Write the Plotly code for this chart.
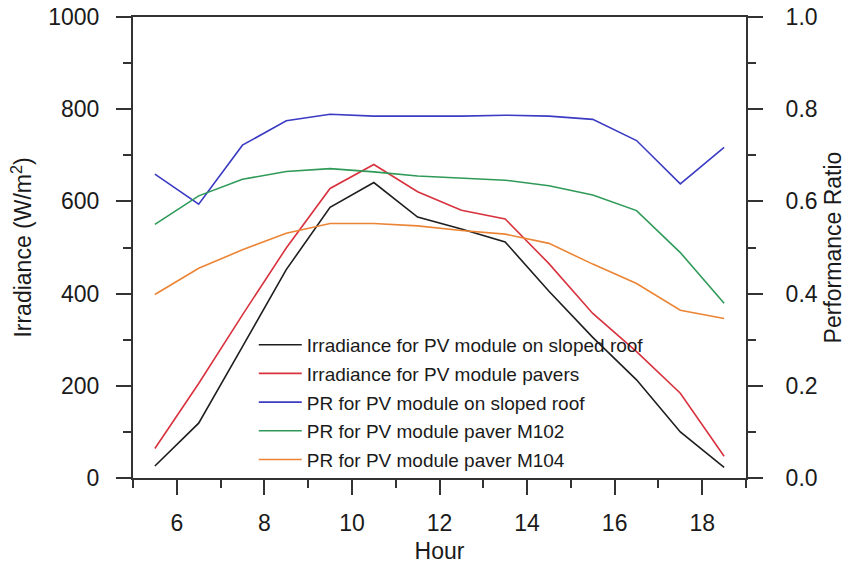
import plotly.graph_objects as go

hours = [5.5, 6.5, 7.5, 8.5, 9.5, 10.5, 11.5, 12.5, 13.5, 14.5, 15.5, 16.5, 17.5, 18.5]
irr_roof = [26, 119, 285, 452, 587, 641, 566, 540, 512, 405, 305, 213, 100, 23]
irr_pavers = [64, 205, 354, 499, 628, 680, 621, 581, 562, 465, 357, 274, 184, 47]
pr_roof = [0.659, 0.594, 0.722, 0.775, 0.789, 0.785, 0.785, 0.785, 0.787, 0.785, 0.778, 0.732, 0.638, 0.717]
pr_m102 = [0.550, 0.612, 0.648, 0.665, 0.671, 0.664, 0.655, 0.650, 0.646, 0.634, 0.614, 0.580, 0.489, 0.379]
pr_m104 = [0.398, 0.455, 0.495, 0.531, 0.552, 0.552, 0.547, 0.537, 0.529, 0.509, 0.464, 0.422, 0.364, 0.346]

names = ["Irradiance for PV module on sloped roof", "Irradiance for PV module pavers",
         "PR for PV module on sloped roof", "PR for PV module paver M102", "PR for PV module paver M104"]
colors = ["#1e1e1e", "#d8323e", "#3b3bc4", "#2f9a58", "#eb8535"]

FONT = "Arial, Liberation Sans, sans-serif"
fig = go.Figure()
series = [(irr_roof, "y"), (irr_pavers, "y"), (pr_roof, "y2"), (pr_m102, "y2"), (pr_m104, "y2")]
for i, ((vals, ax), nm, c) in enumerate(zip(series, names, colors)):
    fig.add_trace(go.Scatter(x=hours, y=vals, name=nm, mode="lines", yaxis=ax,
                             line=dict(color=c, width=1.6), legendgroup=str(i)))

axcol = "#333333"
fig.update_layout(
    width=849, height=567,
    margin=dict(l=133, r=103, t=17, b=89, autoexpand=False),
    paper_bgcolor="white", plot_bgcolor="white",
    font=dict(family=FONT, size=23, color="#1a1a1a"),
    showlegend=True,
    legend=dict(x=0.197, y=0.33, xanchor="left", yanchor="top", bgcolor="rgba(0,0,0,0)",
                font=dict(size=19, color="#1a1a1a"), tracegroupgap=1, traceorder="grouped",
                itemwidth=43),
    xaxis=dict(range=[5, 19], tickvals=[6, 8, 10, 12, 14, 16, 18], ticks="outside", ticklen=15,
               tickwidth=2, tickcolor=axcol, showline=True, linecolor=axcol, linewidth=2,
               mirror=True, showgrid=False, zeroline=False, automargin=False,
               ticklabelstandoff=8,
               minor=dict(tickvals=[5, 7, 9, 11, 13, 15, 17, 19], ticks="outside", ticklen=8,
                          tickwidth=2, tickcolor=axcol),
               title=dict(text="Hour", standoff=8, font=dict(size=23))),
    yaxis=dict(range=[0, 1000], tickvals=[0, 200, 400, 600, 800, 1000], ticks="outside",
               ticklen=15, tickwidth=2, tickcolor=axcol, showline=True, linecolor=axcol,
               linewidth=2, showgrid=False, zeroline=False, automargin=False,
               ticklabelstandoff=12, ticklabeloverflow="allow",
               minor=dict(tickvals=[100, 300, 500, 700, 900], ticks="outside", ticklen=8,
                          tickwidth=2, tickcolor=axcol),
               title=dict(text="Irradiance (W/m<sup>2</sup>)", standoff=10, font=dict(size=23))),
    yaxis2=dict(range=[0, 1.0], overlaying="y", side="right",
                tickvals=[0, 0.2, 0.4, 0.6, 0.8, 1.0], ticktext=["0.0", "0.2", "0.4", "0.6", "0.8", "1.0"],
                ticks="outside", ticklen=15, tickwidth=2, tickcolor=axcol, showline=True,
                linecolor=axcol, linewidth=2, showgrid=False, zeroline=False, automargin=False,
                ticklabelstandoff=18, ticklabeloverflow="allow",
                minor=dict(tickvals=[0.1, 0.3, 0.5, 0.7, 0.9], ticks="outside", ticklen=8,
                           tickwidth=2, tickcolor=axcol),
                title=dict(text="Performance Ratio", standoff=8, font=dict(size=23))),
)
# remove the page's default 8px body margin so the figure fills the window exactly
fig.write_html("out.html", config={"displayModeBar": False},
               post_script="document.body.style.margin='0';")
